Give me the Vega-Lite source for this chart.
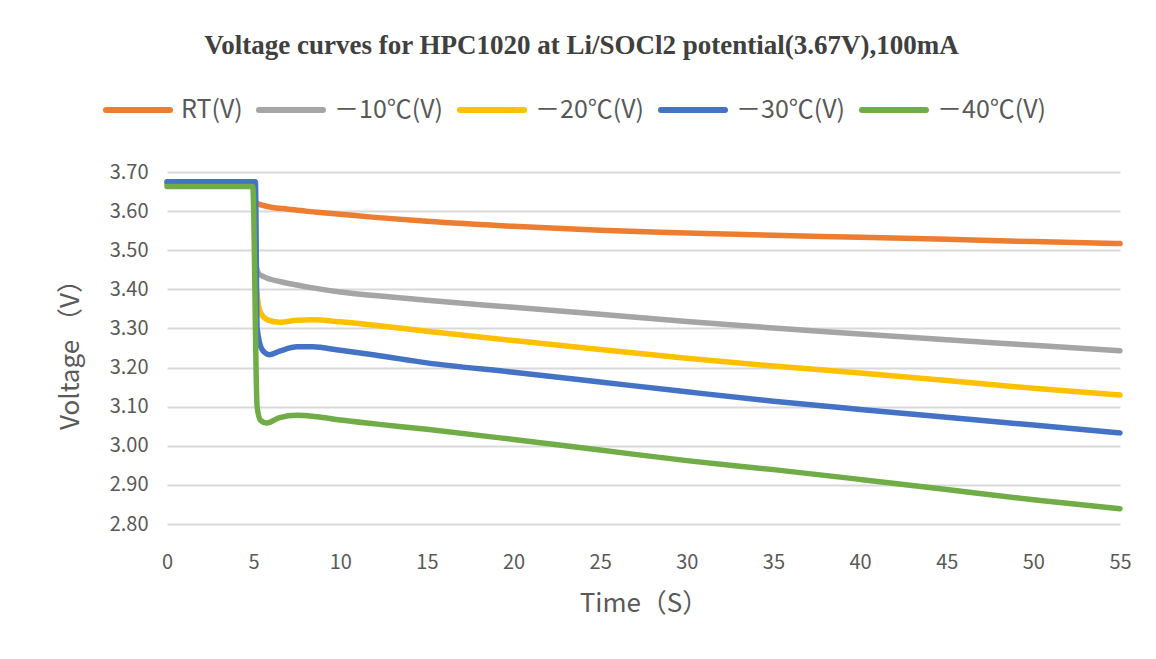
{
  "$schema": "https://vega.github.io/schema/vega-lite/v6.json",
  "width": 953,
  "height": 352,
  "autosize": {"type": "none"},
  "padding": {"left": 167, "top": 172, "right": 36, "bottom": 135},
  "background": "white",
  "title": {
    "text": "Voltage curves for HPC1020 at Li/SOCl2 potential(3.67V),100mA",
    "font": "Liberation Serif",
    "fontSize": 27,
    "fontWeight": "bold",
    "color": "#404040",
    "anchor": "middle",
    "frame": "group",
    "dx": -62,
    "offset": 15
  },
  "data": {
    "values": [
      {"t": 0, "s": "RT(V)", "v": 3.670},
      {"t": 5, "s": "RT(V)", "v": 3.670},
      {"t": 5.1, "s": "RT(V)", "v": 3.622},
      {"t": 5.5, "s": "RT(V)", "v": 3.615},
      {"t": 6, "s": "RT(V)", "v": 3.610},
      {"t": 7, "s": "RT(V)", "v": 3.605},
      {"t": 8, "s": "RT(V)", "v": 3.600},
      {"t": 9, "s": "RT(V)", "v": 3.596},
      {"t": 10, "s": "RT(V)", "v": 3.592},
      {"t": 12, "s": "RT(V)", "v": 3.584},
      {"t": 15, "s": "RT(V)", "v": 3.574},
      {"t": 20, "s": "RT(V)", "v": 3.561},
      {"t": 25, "s": "RT(V)", "v": 3.551},
      {"t": 30, "s": "RT(V)", "v": 3.544},
      {"t": 35, "s": "RT(V)", "v": 3.538},
      {"t": 40, "s": "RT(V)", "v": 3.533},
      {"t": 45, "s": "RT(V)", "v": 3.528},
      {"t": 50, "s": "RT(V)", "v": 3.522},
      {"t": 55, "s": "RT(V)", "v": 3.517},

      {"t": 0, "s": "－10℃(V)", "v": 3.672},
      {"t": 5, "s": "－10℃(V)", "v": 3.672},
      {"t": 5.15, "s": "－10℃(V)", "v": 3.460},
      {"t": 5.3, "s": "－10℃(V)", "v": 3.440},
      {"t": 5.6, "s": "－10℃(V)", "v": 3.432},
      {"t": 6.5, "s": "－10℃(V)", "v": 3.420},
      {"t": 7.5, "s": "－10℃(V)", "v": 3.411},
      {"t": 8.5, "s": "－10℃(V)", "v": 3.403},
      {"t": 10, "s": "－10℃(V)", "v": 3.393},
      {"t": 12, "s": "－10℃(V)", "v": 3.384},
      {"t": 15, "s": "－10℃(V)", "v": 3.372},
      {"t": 20, "s": "－10℃(V)", "v": 3.354},
      {"t": 25, "s": "－10℃(V)", "v": 3.336},
      {"t": 30, "s": "－10℃(V)", "v": 3.318},
      {"t": 35, "s": "－10℃(V)", "v": 3.301},
      {"t": 40, "s": "－10℃(V)", "v": 3.286},
      {"t": 45, "s": "－10℃(V)", "v": 3.271},
      {"t": 50, "s": "－10℃(V)", "v": 3.257},
      {"t": 55, "s": "－10℃(V)", "v": 3.243},

      {"t": 0, "s": "－20℃(V)", "v": 3.672},
      {"t": 5, "s": "－20℃(V)", "v": 3.672},
      {"t": 5.15, "s": "－20℃(V)", "v": 3.410},
      {"t": 5.4, "s": "－20℃(V)", "v": 3.340},
      {"t": 5.8, "s": "－20℃(V)", "v": 3.322},
      {"t": 6.5, "s": "－20℃(V)", "v": 3.316},
      {"t": 7.5, "s": "－20℃(V)", "v": 3.321},
      {"t": 8.4, "s": "－20℃(V)", "v": 3.322},
      {"t": 10, "s": "－20℃(V)", "v": 3.317},
      {"t": 12, "s": "－20℃(V)", "v": 3.308},
      {"t": 15, "s": "－20℃(V)", "v": 3.293},
      {"t": 20, "s": "－20℃(V)", "v": 3.269},
      {"t": 25, "s": "－20℃(V)", "v": 3.246},
      {"t": 30, "s": "－20℃(V)", "v": 3.224},
      {"t": 35, "s": "－20℃(V)", "v": 3.204},
      {"t": 40, "s": "－20℃(V)", "v": 3.186},
      {"t": 45, "s": "－20℃(V)", "v": 3.167},
      {"t": 50, "s": "－20℃(V)", "v": 3.147},
      {"t": 55, "s": "－20℃(V)", "v": 3.130},

      {"t": 0, "s": "－30℃(V)", "v": 3.675},
      {"t": 5.1, "s": "－30℃(V)", "v": 3.675},
      {"t": 5.2, "s": "－30℃(V)", "v": 3.300},
      {"t": 5.5, "s": "－30℃(V)", "v": 3.245},
      {"t": 5.9, "s": "－30℃(V)", "v": 3.233},
      {"t": 6.5, "s": "－30℃(V)", "v": 3.242},
      {"t": 7.5, "s": "－30℃(V)", "v": 3.253},
      {"t": 8.4, "s": "－30℃(V)", "v": 3.253},
      {"t": 10, "s": "－30℃(V)", "v": 3.244},
      {"t": 12, "s": "－30℃(V)", "v": 3.232},
      {"t": 15, "s": "－30℃(V)", "v": 3.212},
      {"t": 20, "s": "－30℃(V)", "v": 3.188},
      {"t": 25, "s": "－30℃(V)", "v": 3.163},
      {"t": 30, "s": "－30℃(V)", "v": 3.138},
      {"t": 35, "s": "－30℃(V)", "v": 3.114},
      {"t": 40, "s": "－30℃(V)", "v": 3.093},
      {"t": 45, "s": "－30℃(V)", "v": 3.073},
      {"t": 50, "s": "－30℃(V)", "v": 3.053},
      {"t": 55, "s": "－30℃(V)", "v": 3.033},

      {"t": 0, "s": "－40℃(V)", "v": 3.663},
      {"t": 4.95, "s": "－40℃(V)", "v": 3.663},
      {"t": 5.2, "s": "－40℃(V)", "v": 3.100},
      {"t": 5.4, "s": "－40℃(V)", "v": 3.065},
      {"t": 5.75, "s": "－40℃(V)", "v": 3.058},
      {"t": 6.5, "s": "－40℃(V)", "v": 3.072},
      {"t": 7.5, "s": "－40℃(V)", "v": 3.078},
      {"t": 8.5, "s": "－40℃(V)", "v": 3.075},
      {"t": 10, "s": "－40℃(V)", "v": 3.066},
      {"t": 12, "s": "－40℃(V)", "v": 3.056},
      {"t": 15, "s": "－40℃(V)", "v": 3.042},
      {"t": 20, "s": "－40℃(V)", "v": 3.016},
      {"t": 25, "s": "－40℃(V)", "v": 2.989},
      {"t": 30, "s": "－40℃(V)", "v": 2.962},
      {"t": 35, "s": "－40℃(V)", "v": 2.939},
      {"t": 40, "s": "－40℃(V)", "v": 2.914},
      {"t": 45, "s": "－40℃(V)", "v": 2.888},
      {"t": 50, "s": "－40℃(V)", "v": 2.862},
      {"t": 55, "s": "－40℃(V)", "v": 2.839}
    ]
  },
  "mark": {"type": "line", "interpolate": "monotone", "strokeWidth": 5.5, "strokeCap": "round", "strokeJoin": "round"},
  "encoding": {
    "x": {
      "field": "t",
      "type": "quantitative",
      "scale": {"domain": [0, 55], "nice": false},
      "axis": {
        "title": "Time（S）",
        "values": [0, 5, 10, 15, 20, 25, 30, 35, 40, 45, 50, 55],
        "grid": false,
        "domain": false,
        "ticks": false,
        "labelFlush": false,
        "labelPadding": 28,
        "labelFont": "Noto Sans CJK SC",
        "labelFontSize": 20,
        "labelColor": "#595959",
        "titleFont": "Noto Sans CJK SC",
        "titleFontSize": 26,
        "titleFontWeight": "normal",
        "titleColor": "#595959",
        "titlePadding": 18
      }
    },
    "y": {
      "field": "v",
      "type": "quantitative",
      "scale": {"domain": [2.8, 3.7], "nice": false, "zero": false},
      "axis": {
        "title": "Voltage （V）",
        "values": [2.8, 2.9, 3.0, 3.1, 3.2, 3.3, 3.4, 3.5, 3.6, 3.7],
        "format": ".2f",
        "grid": true,
        "gridColor": "#D9D9D9",
        "gridWidth": 2,
        "domain": false,
        "ticks": false,
        "labelFlush": false,
        "labelPadding": 19,
        "labelFont": "Noto Sans CJK SC",
        "labelFontSize": 20,
        "labelColor": "#595959",
        "titleFont": "Noto Sans CJK SC",
        "titleFontSize": 26,
        "titleFontWeight": "normal",
        "titleColor": "#595959",
        "titlePadding": 26
      }
    },
    "color": {
      "field": "s",
      "type": "nominal",
      "sort": null,
      "scale": {
        "domain": ["RT(V)", "－10℃(V)", "－20℃(V)", "－30℃(V)", "－40℃(V)"],
        "range": ["#ED7D31", "#A5A5A5", "#FFC000", "#4472C4", "#70AD47"]
      },
      "legend": {
        "orient": "none",
        "legendX": -64,
        "legendY": -97,
        "direction": "horizontal",
        "title": null,
        "symbolType": "stroke",
        "symbolSize": 4096,
        "symbolStrokeWidth": 6,
        "labelFont": "Noto Sans CJK SC",
        "labelFontSize": 25,
        "labelColor": "#595959",
        "labelOffset": 8,
        "columnPadding": 4,
        "padding": 0,
        "labelLimit": 300,
        "encode": {"symbols": {"update": {"strokeCap": {"value": "round"}}}}
      }
    }
  },
  "config": {"view": {"stroke": null}}
}
